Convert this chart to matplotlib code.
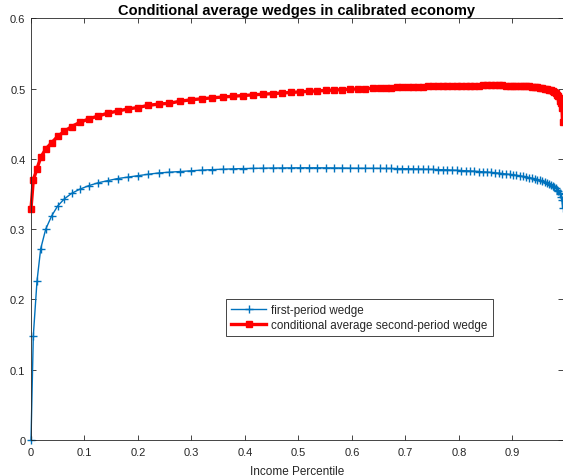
import matplotlib
matplotlib.use("Agg")
import matplotlib.pyplot as plt
from matplotlib.ticker import FormatStrFormatter

plt.rcParams['font.family'] = ['Liberation Sans', 'DejaVu Sans']

# Income percentile grid
percentile = [
    0.0000, 0.0043, 0.0112, 0.0181, 0.0275, 0.0387, 0.0499, 0.0622, 0.0761, 0.0916,
    0.1084, 0.1258, 0.1434, 0.1621, 0.1807, 0.1994, 0.2181, 0.2393, 0.2579, 0.2785,
    0.2985, 0.3191, 0.3389, 0.3583, 0.3776, 0.3968, 0.4155, 0.4336, 0.4518, 0.4692,
    0.4860, 0.5028, 0.5191, 0.5351, 0.5508, 0.5664, 0.5813, 0.5963, 0.6107, 0.6249,
    0.6387, 0.6518, 0.6630, 0.6729, 0.6835, 0.6935, 0.7041, 0.7134, 0.7234, 0.7327,
    0.7421, 0.7514, 0.7607, 0.7695, 0.7781, 0.7869, 0.7957, 0.8037, 0.8125, 0.8206,
    0.8286, 0.8368, 0.8443, 0.8518, 0.8593, 0.8667, 0.8742, 0.8809, 0.8879, 0.8946,
    0.9011, 0.9075, 0.9136, 0.9196, 0.9254, 0.9310, 0.9364, 0.9417, 0.9467, 0.9516,
    0.9561, 0.9604, 0.9645, 0.9682, 0.9718, 0.9751, 0.9781, 0.9809, 0.9836, 0.9858,
    0.9879, 0.9897, 0.9912, 0.9925, 0.9935,
]

# First-period wedge
first_wedge = [
    0.000, 0.148, 0.226, 0.272, 0.300, 0.319, 0.333, 0.343, 0.351, 0.357,
    0.362, 0.366, 0.369, 0.372, 0.374, 0.376, 0.378, 0.380, 0.381, 0.382,
    0.383, 0.384, 0.3847, 0.3853, 0.3858, 0.3862, 0.3865, 0.3868, 0.3870, 0.3871,
    0.3872, 0.3873, 0.3873, 0.3873, 0.3872, 0.3871, 0.3870, 0.3868, 0.3867, 0.3866,
    0.3866, 0.3865, 0.3864, 0.3863, 0.3862, 0.3861, 0.3859, 0.3858, 0.3856, 0.3854,
    0.3852, 0.3850, 0.3848, 0.3845, 0.3843, 0.3840, 0.3837, 0.3834, 0.3831, 0.3828,
    0.3824, 0.3820, 0.3816, 0.3812, 0.3807, 0.3802, 0.3797, 0.3791, 0.3785, 0.3779,
    0.3773, 0.3766, 0.3759, 0.3751, 0.3743, 0.3734, 0.3725, 0.3715, 0.3705, 0.3694,
    0.3683, 0.3671, 0.3658, 0.3645, 0.3631, 0.3616, 0.3600, 0.3583, 0.3564, 0.3544,
    0.3521, 0.3494, 0.3461, 0.3415, 0.3300,
]

# Conditional average second-period wedge
second_wedge = [
    0.329, 0.370, 0.386, 0.402, 0.414, 0.423, 0.432, 0.439, 0.446, 0.452,
    0.457, 0.461, 0.465, 0.468, 0.471, 0.473, 0.476, 0.478, 0.479, 0.482,
    0.484, 0.4855, 0.4868, 0.4880, 0.4891, 0.4901, 0.4911, 0.4920, 0.4928, 0.4937,
    0.4945, 0.4953, 0.4960, 0.4967, 0.4973, 0.4979, 0.4985, 0.4990, 0.4995, 0.4999,
    0.5003, 0.5007, 0.5010, 0.5013, 0.5016, 0.5019, 0.5022, 0.5024, 0.5026, 0.5028,
    0.5030, 0.5032, 0.5034, 0.5035, 0.5037, 0.5038, 0.5039, 0.5040, 0.5041, 0.5042,
    0.5043, 0.5043, 0.5044, 0.5044, 0.5044, 0.5044, 0.5044, 0.5044, 0.5043, 0.5042,
    0.5041, 0.5040, 0.5038, 0.5036, 0.5033, 0.5030, 0.5027, 0.5023, 0.5018, 0.5013,
    0.5007, 0.5000, 0.4992, 0.4983, 0.4973, 0.4961, 0.4947, 0.4931, 0.4912, 0.4890,
    0.4863, 0.4830, 0.4790, 0.4730, 0.4520,
]

xticks = [0, 0.1, 0.2, 0.3, 0.4, 0.5, 0.6, 0.7, 0.8, 0.9]
yticks = [0, 0.1, 0.2, 0.3, 0.4, 0.5, 0.6]

W, H = 563, 477
fig = plt.figure(figsize=(W / 100, H / 100), dpi=100)
ax = fig.add_axes([31 / W, 1 - 441 / H, 531.5 / W, 421.7 / H])

dark = '#262626'
ax.plot(percentile, first_wedge, color='#0072BD', lw=1.0, marker='+',
        markersize=6, mew=1.0, clip_on=False, label='first-period wedge')
ax.plot(percentile, second_wedge, color='#FF0000', lw=2.4, marker='s',
        markersize=5, mew=1.0, mfc='#FF0000', mec='#FF0000', clip_on=False,
        label='conditional average second-period wedge')

ax.set_xlim(0, percentile[-1])
ax.set_ylim(0, 0.6)
ax.set_xticks(xticks)
ax.set_yticks(yticks)
ax.xaxis.set_major_formatter(FormatStrFormatter('%g'))
ax.yaxis.set_major_formatter(FormatStrFormatter('%g'))
ax.tick_params(direction='in', length=3.6, width=0.6, top=True, right=True,
               colors=dark, labelsize=8)
ax.tick_params(axis='x', pad=5)
ax.tick_params(axis='y', pad=4)
for s in ax.spines.values():
    s.set_color(dark)
    s.set_linewidth(0.6)

ax.set_xlabel('Income Percentile', fontsize=8.5, color=dark, labelpad=6)
ax.set_title('Conditional average wedges in calibrated economy',
             fontsize=10.5, fontweight='bold', color='black', pad=3)

leg = ax.legend(loc='upper left', bbox_to_anchor=(226 / W, 1 - 300 / H),
                bbox_transform=fig.transFigure, borderaxespad=0,
                fontsize=8.4, fancybox=False, framealpha=1, edgecolor=dark,
                handlelength=3.0, handletextpad=0.4, borderpad=0.45,
                labelspacing=0.2, markerscale=1.0)
leg.get_frame().set_linewidth(0.6)
for t in leg.get_texts():
    t.set_color(dark)

fig.savefig('out.png', dpi=100)
